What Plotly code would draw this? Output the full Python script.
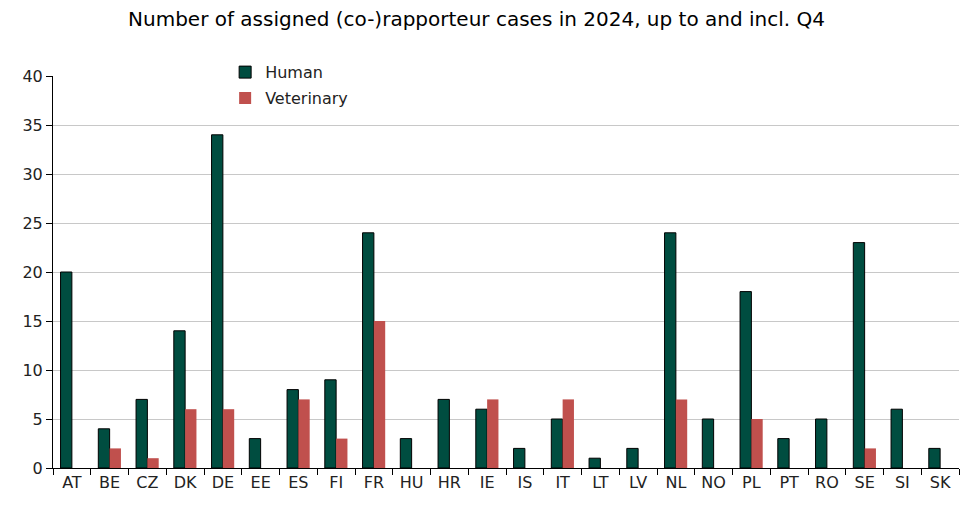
import plotly.graph_objects as go

countries = ["AT","BE","CZ","DK","DE","EE","ES","FI","FR","HU","HR","IE","IS","IT","LT","LV","NL","NO","PL","PT","RO","SE","SI","SK"]
human = [20,4,7,14,34,3,8,9,24,3,7,6,2,5,1,2,24,5,18,3,5,23,6,2]
veterinary = [0,2,1,6,6,0,7,3,15,0,0,7,0,7,0,0,7,0,5,0,0,2,0,0]

fig = go.Figure()
fig.add_trace(go.Bar(x=countries, y=human, name="Human", legendgroup="h",
                     marker=dict(color="#004d40", line=dict(color="black", width=1))))
fig.add_trace(go.Bar(x=countries, y=veterinary, name="Veterinary", legendgroup="v",
                     marker=dict(color="#c0504d", line=dict(width=0))))

fig.update_layout(
    width=966, height=511,
    margin=dict(l=45, r=15, t=68, b=51),
    paper_bgcolor="white", plot_bgcolor="white",
    font=dict(family="DejaVu Sans, Verdana, sans-serif", size=16, color="#222"),
    title=dict(text="Number of assigned (co-)rapporteur cases in 2024, up to and incl. Q4",
               x=0.485, xanchor="center", y=0.978, yanchor="middle", font=dict(size=20, color="black")),
    barmode="group", bargap=0.4, bargroupgap=0,
    legend=dict(x=0.19, y=1.053, xanchor="left", yanchor="top", tracegroupgap=2,
                traceorder="grouped", bgcolor="rgba(0,0,0,0)", font=dict(size=16),
                itemwidth=30),
    showlegend=True,
)
fig.update_xaxes(type="category", showline=True, linecolor="black", linewidth=1,
                 ticks="outside", tickson="boundaries", ticklen=6, tickcolor="black",
                 showgrid=False, tickfont=dict(size=16))
fig.update_yaxes(range=[0, 40], dtick=5, showline=True, linecolor="black", linewidth=1,
                 ticks="outside", ticklen=6, tickcolor="black",
                 showgrid=True, gridcolor="#c8c8c8", gridwidth=1, zeroline=False,
                 tickfont=dict(size=16))

fig.write_html("out.html")
